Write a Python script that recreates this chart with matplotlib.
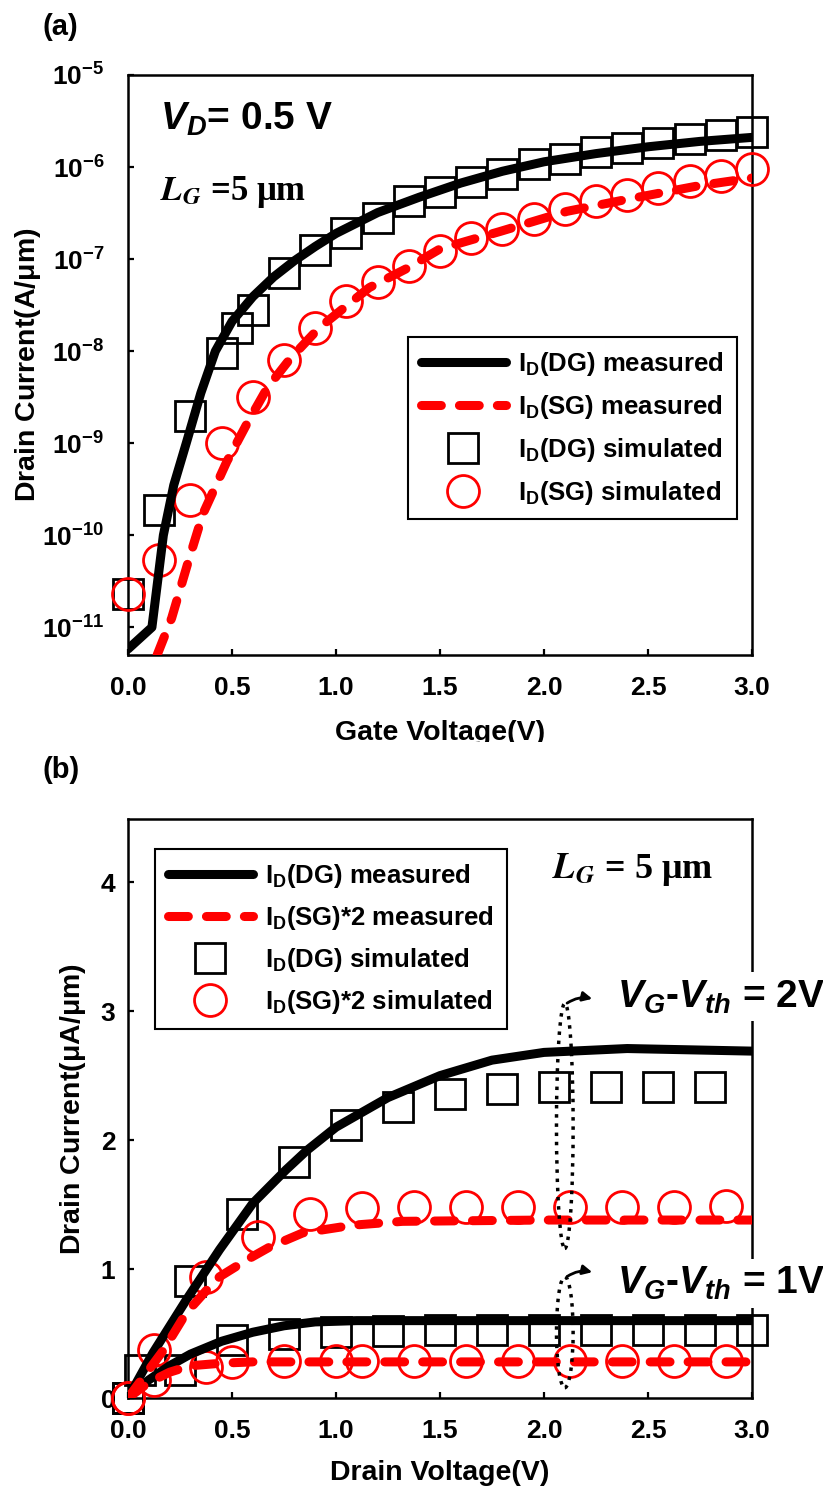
import math
import matplotlib
matplotlib.use('Agg')
import matplotlib.pyplot as plt
from matplotlib.patches import Ellipse, Rectangle
from matplotlib.ticker import FixedLocator, FuncFormatter, NullLocator

plt.rcParams.update({
    'font.family': ['Liberation Sans', 'DejaVu Sans'],
    'font.weight': 'bold',
    'axes.labelweight': 'bold',
    'mathtext.fontset': 'custom',
    'mathtext.rm': 'Liberation Sans:bold',
    'mathtext.bf': 'Liberation Sans:bold',
    'mathtext.sf': 'Liberation Sans:bold',
    'mathtext.it': 'Liberation Sans:italic',
    'mathtext.bfit': 'Liberation Sans:italic:bold',
})

# ---- (a) transfer curves, VD = 0.5 V ----
vg_dg_meas = [0.0, 0.115, 0.17, 0.22, 0.28, 0.35, 0.42, 0.5, 0.6, 0.7, 0.8, 0.9,
              1.0, 1.2, 1.4, 1.6, 1.8, 2.0, 2.25, 2.5, 2.75, 3.0]
id_dg_meas = [5.8e-12, 1.0e-11, 1.0e-10, 3.5e-10, 1.0e-9, 3.5e-9, 1.0e-8, 2.1e-8, 3.9e-8,
              6.4e-8, 9.6e-8, 1.37e-7, 1.9e-7, 3.2e-7, 4.7e-7, 6.7e-7, 9.0e-7, 1.14e-6,
              1.4e-6, 1.66e-6, 1.9e-6, 2.1e-6]
vg_sg_meas = [0.14, 0.21, 0.29, 0.36, 0.475, 0.57, 0.67, 0.78, 0.92, 1.16, 1.34, 1.5, 1.79,
              2.11, 2.43, 2.75, 3.0]
id_sg_meas = [5.0e-12, 1.26e-11, 5.2e-11, 1.7e-10, 6.3e-10, 1.6e-9, 4.0e-9, 8.3e-9, 1.8e-8,
              4.9e-8, 7.9e-8, 1.29e-7, 2.0e-7, 3.3e-7, 4.6e-7, 6.3e-7, 7.6e-7]
vg_dg_sim = [0.0, 0.15, 0.3, 0.45, 0.525, 0.6, 0.75, 0.9, 1.05, 1.2, 1.35, 1.5, 1.65, 1.8,
             1.95, 2.1, 2.25, 2.4, 2.55, 2.7, 2.85, 3.0]
id_dg_sim = [2.3e-11, 1.9e-10, 1.95e-9, 9.5e-9, 1.8e-8, 2.8e-8, 7.1e-8, 1.26e-7, 1.9e-7, 2.8e-7,
             4.3e-7, 5.4e-7, 6.8e-7, 8.5e-7, 1.07e-6, 1.23e-6, 1.45e-6, 1.62e-6, 1.82e-6,
             2.0e-6, 2.24e-6, 2.4e-6]
vg_sg_sim = [0.0, 0.15, 0.3, 0.45, 0.6, 0.75, 0.9, 1.05, 1.2, 1.35, 1.5, 1.65, 1.8, 1.95, 2.1,
             2.25, 2.4, 2.55, 2.7, 2.85, 3.0]
id_sg_sim = [2.3e-11, 5.4e-11, 2.4e-10, 1.0e-9, 3.2e-9, 8.0e-9, 1.8e-8, 3.5e-8, 5.6e-8, 8.5e-8,
             1.23e-7, 1.7e-7, 2.1e-7, 2.7e-7, 3.5e-7, 4.3e-7, 5.0e-7, 5.9e-7, 7.1e-7, 7.9e-7,
             9.5e-7]
a_yticks = [1e-11, 1e-10, 1e-9, 1e-8, 1e-7, 1e-6, 1e-5]
a_xticks = [0.0, 0.5, 1.0, 1.5, 2.0, 2.5, 3.0]

# ---- (b) output curves, VG-Vth = 2 V (upper) and 1 V (lower) ----
vd_dg_meas_2v = [0.0, 0.12, 0.28, 0.44, 0.6, 0.76, 0.86, 1.0, 1.25, 1.5, 1.75, 2.0, 2.4, 3.0]
id_dg_meas_2v = [0.0, 0.35, 0.76, 1.15, 1.51, 1.77, 1.92, 2.10, 2.33, 2.50, 2.62, 2.68, 2.71, 2.69]
vd_sg_meas_2v = [0.0, 0.17, 0.28, 0.38, 0.44, 0.57, 0.68, 0.84, 1.08, 1.32, 2.0, 3.0]
id_sg_meas_2v = [0.0, 0.37, 0.66, 0.84, 0.94, 1.07, 1.17, 1.28, 1.34, 1.37, 1.38, 1.38]
vd_dg_sim_2v = [0.0, 0.06, 0.3, 0.55, 0.8, 1.05, 1.3, 1.55, 1.8, 2.05, 2.3, 2.55, 2.8]
id_dg_sim_2v = [0.0, 0.22, 0.91, 1.43, 1.83, 2.12, 2.26, 2.36, 2.40, 2.41, 2.41, 2.41, 2.41]
vd_sg_sim_2v = [0.0, 0.125, 0.375, 0.625, 0.875, 1.125, 1.375, 1.625, 1.875, 2.125, 2.375,
                2.625, 2.875]
id_sg_sim_2v = [0.0, 0.37, 0.94, 1.25, 1.43, 1.47, 1.48, 1.48, 1.48, 1.48, 1.48, 1.48, 1.49]

vd_dg_meas_1v = [0.0, 0.1, 0.2, 0.3, 0.45, 0.6, 0.75, 0.9, 1.1, 1.5, 2.0, 2.5, 3.0]
id_dg_meas_1v = [0.0, 0.14, 0.25, 0.34, 0.44, 0.51, 0.56, 0.59, 0.60, 0.60, 0.60, 0.60, 0.60]
vd_sg_meas_1v = [0.0, 0.1, 0.2, 0.3, 0.45, 0.6, 1.0, 2.0, 3.0]
id_sg_meas_1v = [0.0, 0.12, 0.20, 0.25, 0.27, 0.28, 0.28, 0.28, 0.28]
vd_dg_sim_1v = [0.0, 0.25, 0.5, 0.75, 1.0, 1.25, 1.5, 1.75, 2.0, 2.25, 2.5, 2.75, 3.0]
id_dg_sim_1v = [0.0, 0.22, 0.45, 0.50, 0.51, 0.52, 0.53, 0.53, 0.53, 0.53, 0.53, 0.53, 0.53]
vd_sg_sim_1v = [0.0, 0.125, 0.375, 0.5, 0.75, 1.0, 1.125, 1.375, 1.625, 1.875, 2.125, 2.375,
                2.625, 2.875]
id_sg_sim_1v = [0.0, 0.14, 0.24, 0.28, 0.29, 0.29, 0.29, 0.29, 0.29, 0.29, 0.29, 0.29, 0.29, 0.29]
b_yticks = [0, 1, 2, 3, 4]

W, H = 823, 1493
fig = plt.figure(figsize=(W / 100, H / 100), dpi=100)
ax_a = fig.add_axes([128 / W, 1 - 655 / H, 624 / W, 580 / H])
ax_b = fig.add_axes([128 / W, 1 - 1398 / H, 624 / W, 579 / H])

LW = 6.5
sq = dict(ls='none', marker='s', ms=21, mfc='none', mec='black', mew=2.0, clip_on=False)
ci = dict(ls='none', marker='o', ms=23, mfc='none', mec='red', mew=2.0, clip_on=False)
solid = dict(color='black', lw=LW, solid_capstyle='round')
dashed = dict(color='red', lw=LW, dashes=(2.2, 2.0), dash_capstyle='round')


def style_axes(ax, ypad):
    for s in ax.spines.values():
        s.set_linewidth(1.8)
    ax.tick_params(direction='in', length=4, width=1.6, labelsize=19, top=False, right=False)
    ax.tick_params(axis='x', pad=15)
    ax.tick_params(axis='y', pad=ypad)
    ax.yaxis.set_minor_locator(NullLocator())
    ax.xaxis.set_minor_locator(NullLocator())


def make_legend(ax, x0, y0, spacing):
    h, l = ax.get_legend_handles_labels()
    order = [2, 3, 0, 1]
    leg = ax.legend([h[i] for i in order], [l[i] for i in order], loc='upper left',
                    bbox_to_anchor=(x0, y0), borderaxespad=0,
                    fontsize=18.5, handlelength=3.3, handletextpad=0.5, labelspacing=spacing,
                    borderpad=0.5, fancybox=False, framealpha=1, edgecolor='black')
    leg.get_frame().set_linewidth(1.5)


# ---------- panel (a) ----------
ax = ax_a
ax.set_yscale('log')
ax.plot(vg_dg_sim, id_dg_sim, label=r'I$_{\rm D}$(DG) simulated', zorder=3, **sq)
ax.plot(vg_sg_sim, id_sg_sim, label=r'I$_{\rm D}$(SG) simulated', zorder=3, **ci)
ax.plot(vg_dg_meas, id_dg_meas, label=r'I$_{\rm D}$(DG) measured', zorder=4, **solid)
ax.plot(vg_sg_meas, id_sg_meas, label=r'I$_{\rm D}$(SG) measured', zorder=4, **dashed)
ax.set_xlim(0, 3.0)
ax.set_ylim(5e-12, 1e-5)
ax.xaxis.set_major_locator(FixedLocator(a_xticks))
ax.xaxis.set_major_formatter(FuncFormatter(lambda v, p: f'{v:.1f}'))
ax.yaxis.set_major_locator(FixedLocator(a_yticks))
ax.yaxis.set_major_formatter(FuncFormatter(
    lambda v, p: '10$^{\\mathregular{%d}}$' % round(math.log10(v))))
style_axes(ax, 17)
ax.set_xlabel('Gate Voltage(V)', fontsize=20.5, va='center')
ax.xaxis.set_label_coords(0.5, (655 - 733) / 580)
ax.set_ylabel(r'Drain Current(A/$\mathregular{\mu}$m)', fontsize=20.5, va='center')
ax.yaxis.set_label_coords((28 - 128) / 624, 0.5)
make_legend(ax, (408 - 128) / 624, (655 - 337) / 580, 0.58)

ax.text(0.051, (655 - 130) / 580, r'$\mathbfit{V}_{D}$= 0.5 V', transform=ax.transAxes,
        fontsize=28, va='baseline', ha='left')
ax.text(0.051, (655 - 200) / 580, r'$\mathbfit{L}_{G}$ =5 μm', transform=ax.transAxes,
        fontsize=25, va='baseline', ha='left', family=['Liberation Serif'],
        math_fontfamily='stix')

# ---------- panel (b) ----------
ax = ax_b
ax.plot(vd_dg_sim_2v, id_dg_sim_2v, label=r'I$_{\rm D}$(DG) simulated', zorder=3, **sq)
ax.plot(vd_dg_sim_1v, id_dg_sim_1v, zorder=3, **sq)
ax.plot(vd_sg_sim_2v, id_sg_sim_2v, label=r'I$_{\rm D}$(SG)*2 simulated', zorder=3, **ci)
ax.plot(vd_sg_sim_1v, id_sg_sim_1v, zorder=3, **ci)
ax.plot(vd_dg_meas_2v, id_dg_meas_2v, label=r'I$_{\rm D}$(DG) measured', zorder=4, **solid)
ax.plot(vd_dg_meas_1v, id_dg_meas_1v, zorder=4, **solid)
ax.plot(vd_sg_meas_2v, id_sg_meas_2v, label=r'I$_{\rm D}$(SG)*2 measured', zorder=4, **dashed)
ax.plot(vd_sg_meas_1v, id_sg_meas_1v, zorder=4, **dashed)
ax.set_xlim(0, 3.0)
ax.set_ylim(0, 4.49)
ax.xaxis.set_major_locator(FixedLocator(a_xticks))
ax.xaxis.set_major_formatter(FuncFormatter(lambda v, p: f'{v:.1f}'))
ax.yaxis.set_major_locator(FixedLocator(b_yticks))
style_axes(ax, 9)
ax.set_xlabel('Drain Voltage(V)', fontsize=20.5, va='center')
ax.xaxis.set_label_coords(0.5, (1398 - 1473) / 579)
ax.set_ylabel(r'Drain Current($\mathregular{\mu}$A/$\mathregular{\mu}$m)', fontsize=20.5,
              va='center')
ax.yaxis.set_label_coords((73 - 128) / 624, 0.5)
make_legend(ax, (155 - 128) / 624, (1398 - 849) / 579, 0.55)

ax.text(2.04, 4.03, r'$\mathbfit{L}_{G}$ = 5 μm', fontsize=26, va='baseline', ha='left',
        family=['Liberation Serif'], math_fontfamily='stix')

# dotted loops marking the two gate-overdrive families
for cy, hgt, ty, lab in [(2.11, 1.90, 3.03, r'$\mathbfit{V}_{G}$-$\mathbfit{V}_{th}$ = 2V'),
                         (0.51, 0.86, 0.81, r'$\mathbfit{V}_{G}$-$\mathbfit{V}_{th}$ = 1V')]:
    ax.add_patch(Ellipse((2.10, cy), 0.08, hgt, fill=False, ls=':', lw=2.5,
                         ec='black', zorder=5))
    top = cy + hgt / 2
    ax.annotate('', xy=(2.245, top + 0.03), xytext=(2.10, top - 0.01),
                arrowprops=dict(arrowstyle='-|>', color='black', lw=2,
                                connectionstyle='arc3,rad=-0.25', mutation_scale=14),
                zorder=6)
    ax.text(2.35, ty, lab, fontsize=28, va='baseline', ha='left', zorder=7, clip_on=False,
            bbox=dict(boxstyle='square,pad=0.15', fc='white', ec='none'))

# panel labels
fig.text(43 / W, 1 - 27 / H, '(a)', fontsize=21, va='center', ha='left')
fig.text(43 / W, 1 - 770 / H, '(b)', fontsize=21, va='center', ha='left')

# the bottom of the (a) axis title is cut by panel (b) in the original figure
fig.add_artist(Rectangle((0, 1 - 752 / H), 1, 10 / H, transform=fig.transFigure,
                         fc='white', ec='none', zorder=20))

fig.savefig('out.png', dpi=100)
